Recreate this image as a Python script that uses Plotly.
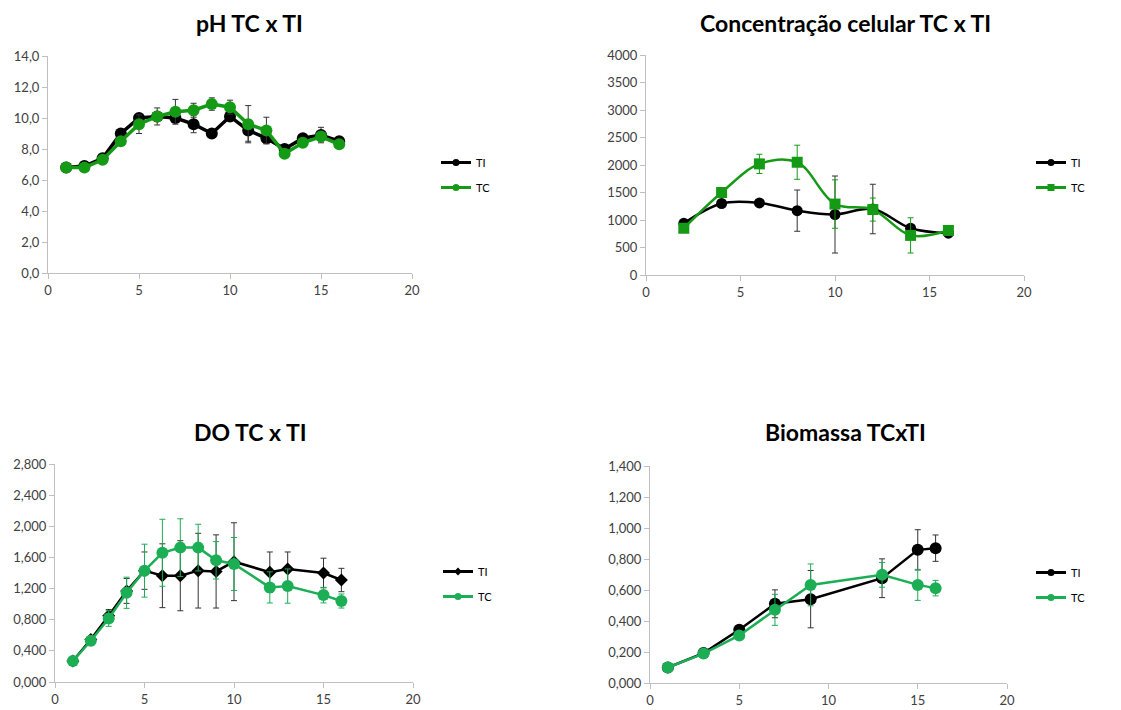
import plotly.graph_objects as go

# ---------------- data ----------------
ph_x = list(range(1, 17))
ph_ti = [6.8, 6.9, 7.4, 9.0, 10.0, 10.1, 10.0, 9.6, 9.0, 10.1, 9.2, 8.7, 8.0, 8.7, 8.9, 8.5]
ph_ti_err = [0.1, 0.1, 0.15, 0.15, 0.2, 0.2, 0.3, 0.55, 0.15, 0.2, 0.7, 0.37, 0.15, 0.15, 0.5, 0.15]
ph_tc = [6.8, 6.8, 7.3, 8.5, 9.6, 10.1, 10.4, 10.5, 10.9, 10.7, 9.6, 9.2, 7.7, 8.4, 8.8, 8.3]
ph_tc_err = [0.1, 0.1, 0.15, 0.2, 0.6, 0.55, 0.8, 0.45, 0.4, 0.45, 1.2, 0.85, 0.15, 0.15, 0.2, 0.15]

cc_x = [2, 4, 6, 8, 10, 12, 14, 16]
cc_ti = [940, 1300, 1310, 1170, 1100, 1200, 850, 760]
cc_ti_err = [30, 40, 40, 375, 700, 450, 60, 30]
cc_tc = [850, 1500, 2020, 2050, 1290, 1190, 720, 810]
cc_tc_err = [30, 60, 175, 310, 440, 210, 320, 30]

do_x = [1, 2, 3, 4, 5, 6, 7, 8, 9, 10, 12, 13, 15, 16]
do_ti = [0.27, 0.545, 0.85, 1.17, 1.43, 1.365, 1.365, 1.43, 1.42, 1.545, 1.41, 1.45, 1.40, 1.31]
do_ti_err = [0.02, 0.03, 0.08, 0.16, 0.24, 0.41, 0.45, 0.48, 0.47, 0.50, 0.26, 0.22, 0.19, 0.15]
do_tc = [0.27, 0.53, 0.815, 1.146, 1.43, 1.66, 1.726, 1.726, 1.563, 1.516, 1.215, 1.232, 1.116, 1.04]
do_tc_err = [0.02, 0.03, 0.10, 0.20, 0.34, 0.43, 0.37, 0.30, 0.24, 0.34, 0.20, 0.22, 0.10, 0.09]

bm_x = [1, 3, 5, 7, 9, 13, 15, 16]
bm_ti = [0.10, 0.193, 0.344, 0.511, 0.541, 0.676, 0.859, 0.870]
bm_ti_err = [0.01, 0.01, 0.02, 0.09, 0.185, 0.125, 0.13, 0.085]
bm_tc = [0.10, 0.19, 0.307, 0.472, 0.633, 0.698, 0.633, 0.612]
bm_tc_err = [0.01, 0.01, 0.02, 0.10, 0.135, 0.08, 0.10, 0.05]

titles = ["pH TC x TI", "Concentração celular TC x TI", "DO TC x TI", "Biomassa TCxTI"]
series_names = ["TI", "TC"]

W, H = 1121, 710
FONT = "Lato"
BLACK = "#000000"
GREEN1 = "#159a15"
GREEN2 = "#1cae55"
AXIS = "#bfbfbf"
TICKC = "#404040"

def px_x(a, b):
    return [a / W, b / W]

def px_y(top, bottom):
    return [1 - bottom / H, 1 - top / H]

panels = [
    dict(xd=px_x(48, 412), yd=px_y(56, 273), yr=[0, 14], dt=2, fmt=".1f",
         title_xy=(249, 23), leg_xy=(436, 148)),
    dict(xd=px_x(646, 1024), yd=px_y(55, 275), yr=[0, 4000], dt=500, fmt="d",
         title_xy=(845, 23), leg_xy=(1031, 148)),
    dict(xd=px_x(55, 413), yd=px_y(464, 682), yr=[0, 2.8], dt=0.4, fmt=".3f",
         title_xy=(250, 432), leg_xy=(438, 557)),
    dict(xd=px_x(650, 1007), yd=px_y(466, 683), yr=[0, 1.4], dt=0.2, fmt=".3f",
         title_xy=(845, 432), leg_xy=(1031, 558)),
]

fig = go.Figure()

def add_series(i, x, y, err, color, errcolor, symbol, size, lw, name, shape="linear"):
    ax = "" if i == 0 else str(i + 1)
    fig.add_trace(go.Scatter(
        x=x, y=y, mode="lines+markers", name=name,
        line=dict(color=color, width=lw, shape=shape, smoothing=1.0),
        marker=dict(color=color, size=size, symbol=symbol),
        error_y=dict(type="data", array=err, color=errcolor, thickness=1, width=3),
        xaxis="x" + ax, yaxis="y" + ax, showlegend=False,
    ))
    # legend entry (small marker like the original)
    fig.add_trace(go.Scatter(
        x=[None], y=[None], mode="lines+markers", name=name,
        line=dict(color=color, width=3),
        marker=dict(color=color, size=7 if symbol != "diamond" else 6, symbol=symbol),
        xaxis="x" + ax, yaxis="y" + ax, showlegend=True,
        legend="legend" + ax, legendgroup=name + ax,
    ))

# pH
add_series(0, ph_x, ph_ti, ph_ti_err, BLACK, "#333333", "circle", 12, 3.5, series_names[0])
add_series(0, ph_x, ph_tc, ph_tc_err, GREEN1, "#333333", "circle", 12, 3.5, series_names[1])
# Concentração
add_series(1, cc_x, cc_ti, cc_ti_err, BLACK, "#333333", "circle", 11, 2.5, series_names[0], "spline")
add_series(1, cc_x, cc_tc, cc_tc_err, GREEN1, GREEN1, "square", 11, 2.5, series_names[1], "spline")
# DO
add_series(2, do_x, do_ti, do_ti_err, BLACK, "#333333", "diamond", 10, 2.5, series_names[0])
add_series(2, do_x, do_tc, do_tc_err, GREEN2, GREEN2, "circle", 12, 2.5, series_names[1])
# Biomassa
add_series(3, bm_x, bm_ti, bm_ti_err, BLACK, "#333333", "circle", 12, 2.5, series_names[0])
add_series(3, bm_x, bm_tc, bm_tc_err, GREEN2, GREEN2, "circle", 12, 2.5, series_names[1])

layout = dict(
    width=W, height=H,
    margin=dict(l=0, r=0, t=0, b=0, autoexpand=False),
    paper_bgcolor="white", plot_bgcolor="white",
    separators=",.",
    font=dict(family=FONT, color=TICKC, size=13),
    annotations=[],
)

for i, p in enumerate(panels):
    ax = "" if i == 0 else str(i + 1)
    layout["xaxis" + ax] = dict(
        domain=p["xd"], range=[0, 20], dtick=5, tick0=0, anchor="y" + ax,
        showline=True, linecolor=AXIS, linewidth=1, ticks="outside", ticklen=5,
        tickcolor=AXIS, showgrid=False, zeroline=False, automargin=False,
        tickfont=dict(family=FONT, size=13, color=TICKC),
    )
    layout["yaxis" + ax] = dict(
        domain=p["yd"], range=p["yr"], dtick=p["dt"], tick0=0, anchor="x" + ax,
        showline=True, linecolor=AXIS, linewidth=1, ticks="outside", ticklen=5,
        tickcolor=AXIS, showgrid=False, zeroline=False, tickformat=p["fmt"],
        automargin=False,
        tickfont=dict(family=FONT, size=13, color=TICKC),
    )
    tx, ty = p["title_xy"]
    layout["annotations"].append(dict(
        text="<b>" + titles[i] + "</b>", x=tx / W, y=1 - ty / H, xref="paper", yref="paper",
        xanchor="center", yanchor="middle", showarrow=False,
        font=dict(family=FONT, size=23, color="#000000"),
    ))
    lx, ly = p["leg_xy"]
    layout["legend" + ax] = dict(
        x=lx / W, y=1 - ly / H, xanchor="left", yanchor="top",
        bgcolor="rgba(0,0,0,0)", font=dict(family=FONT, size=11, color="#000000"),
        tracegroupgap=6, itemwidth=30,
    )

fig.update_layout(**layout)

post = "document.body.style.margin='0';document.body.style.overflow='hidden';"
fig.write_html("out.html", config={"displayModeBar": False}, post_script=post)
